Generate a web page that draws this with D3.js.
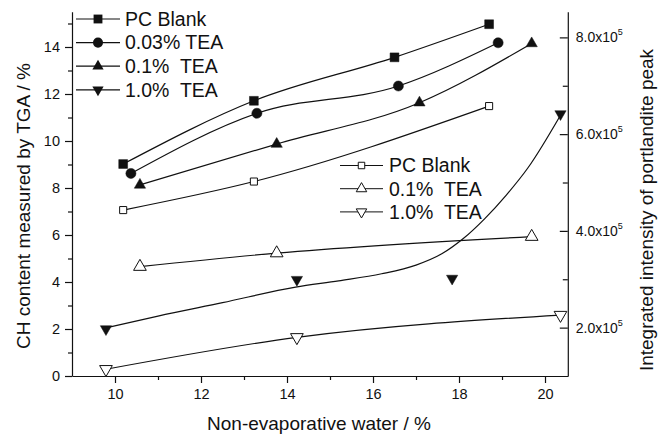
<!DOCTYPE html>
<html>
<head>
<meta charset="utf-8">
<script src="https://cdn.jsdelivr.net/npm/d3@7"></script>
<style>
  html, body { margin: 0; padding: 0; background: #fff; }
  svg text { font-family: "Liberation Sans", Arial, sans-serif; fill: #111; white-space: pre; }
</style>
</head>
<body>
<svg id="chart" width="670" height="435"></svg>
<script>
// Non-evaporative water (%) and CH content by TGA (%) — left axis, filled symbols
const nwBlank = [10.19, 13.23, 16.5, 18.7];
const chBlank = [9.02, 11.71, 13.56, 14.97];
const nwTea003 = [10.37, 13.3, 16.59, 18.91];
const chTea003 = [8.62, 11.18, 12.34, 14.18];
const nwTea01 = [10.58, 13.76, 17.08, 19.69];
const chTea01 = [8.13, 9.87, 11.63, 14.15];
const nwTea10 = [9.79, 14.23, 17.84, 20.36];
const chTea10 = [2.0, 4.1, 4.15, 11.15];

// fitted trend for the 1.0% TEA CH content
const fitTea10X = [9.79, 11, 12.5, 14.2, 15.2, 16.2, 17.0, 17.6, 18.1, 18.6, 19.1, 19.6, 20.36];
const fitTea10Y = [2.05, 2.55, 3.12, 3.78, 4.05, 4.35, 4.72, 5.2, 5.85, 6.7, 7.7, 8.85, 11.1];

// Integrated intensity of the portlandite XRD peak — right axis, open symbols
const nwXrdBlank = [10.19, 13.23, 18.7];
const intBlank = [4.43e5, 5.02e5, 6.58e5];
const nwXrd01 = [10.58, 13.76, 19.69];
const int01 = [3.26e5, 3.54e5, 3.88e5];
const nwXrd10 = [9.79, 14.23, 20.36];
const int10 = [1.14e5, 1.80e5, 2.26e5];

// tick values
const xTicks = [10, 12, 14, 16, 18, 20];
const yLeftTicks = [0, 2, 4, 6, 8, 10, 12, 14];
const yRightTicks = [2e5, 4e5, 6e5, 8e5];
const yRightLabels = ["2.0x10", "4.0x10", "6.0x10", "8.0x10"];

const legendTGA = ["PC Blank", "0.03% TEA", "0.1%  TEA", "1.0%  TEA"];
const legendXRD = ["PC Blank", "0.1%  TEA", "1.0%  TEA"];

const svg = d3.select("#chart");

const x = d3.scaleLinear().domain([9, 20.53]).range([72, 567.8]);
const yL = d3.scaleLinear().domain([0, 15.5]).range([376, 11.75]);
const yR = d3.scaleLinear().domain([1e5, 8.53e5]).range([376, 11.75]);

const ink = "#111";

// ---- axes ----
svg.append("g").attr("transform", `translate(0,${yL(0)})`)
  .call(d3.axisBottom(x).tickValues(xTicks).tickSize(7).tickSizeOuter(0).tickPadding(6));
svg.append("g").attr("transform", `translate(0,${yL(0)})`)
  .call(d3.axisBottom(x).tickValues([11, 13, 15, 17, 19]).tickSize(4).tickFormat(""))
  .call(g => g.select(".domain").remove());

svg.append("g").attr("transform", `translate(${x(9)},0)`)
  .call(d3.axisLeft(yL).tickValues(yLeftTicks).tickSize(7).tickSizeOuter(0).tickPadding(5));
svg.append("g").attr("transform", `translate(${x(9)},0)`)
  .call(d3.axisLeft(yL).tickValues([1, 3, 5, 7, 9, 11, 13, 15]).tickSize(4).tickFormat(""))
  .call(g => g.select(".domain").remove());

// right axis: ticks point inward
svg.append("g").attr("transform", `translate(${x.range()[1]},0)`)
  .call(d3.axisRight(yR).tickValues(yRightTicks).tickSize(-8).tickSizeOuter(0).tickFormat(""));
svg.append("g").attr("transform", `translate(${x.range()[1]},0)`)
  .call(d3.axisRight(yR).tickValues([3e5, 5e5, 7e5]).tickSize(-5).tickFormat(""))
  .call(g => g.select(".domain").remove());

svg.selectAll(".domain, .tick line").attr("stroke", ink).attr("stroke-width", 1.2);
svg.selectAll(".tick text").attr("font-size", 14.5).attr("fill", ink)
  .style("font-family", "'Liberation Sans', Arial, sans-serif");

// right tick labels with superscript exponent
const rl = svg.append("g");
yRightTicks.forEach((v, i) => {
  const t = rl.append("text").attr("x", x.range()[1] + 8).attr("y", yR(v) + 5)
    .attr("font-size", 14);
  t.append("tspan").text(yRightLabels[i]);
  t.append("tspan").attr("font-size", 9).attr("dy", -7).text("5");
});

// ---- axis titles ----
svg.append("text").attr("x", 319).attr("y", 430).attr("text-anchor", "middle")
  .attr("font-size", 19).text("Non-evaporative water / %");
svg.append("text").attr("transform", "translate(30,206) rotate(-90)")
  .attr("text-anchor", "middle").attr("font-size", 19)
  .text("CH content measured by TGA / %");
svg.append("text").attr("transform", "translate(653,210) rotate(-90)")
  .attr("text-anchor", "middle").attr("font-size", 19)
  .text("Integrated intensity of portlandite peak");

// ---- symbols ----
const sym = {
  square: d3.symbol().type(d3.symbolSquare).size(78),
  circle: d3.symbol().type(d3.symbolCircle).size(80),
  up: d3.symbol().type(d3.symbolTriangle).size(55),
  down: d3.symbol().type(d3.symbolTriangle).size(55)
};
const openSym = {
  square: d3.symbol().type(d3.symbolSquare).size(50),
  up: d3.symbol().type(d3.symbolTriangle).size(70),
  down: d3.symbol().type(d3.symbolTriangle).size(70)
};
function place(kind, cx, cy) {
  return `translate(${cx},${cy})` + (kind === "down" ? " rotate(180)" : "");
}

const smooth = d3.line().curve(d3.curveMonotoneX);
function drawLine(xsArr, ysArr, yScale) {
  const pts = xsArr.map((v, i) => [x(v), yScale(ysArr[i])]);
  svg.append("path").attr("d", smooth(pts)).attr("fill", "none")
    .attr("stroke", ink).attr("stroke-width", 1.2);
}
function drawMarks(xsArr, ysArr, yScale, kind, filled, gen) {
  svg.append("g").selectAll("path").data(xsArr).join("path")
    .attr("d", gen[kind]())
    .attr("transform", (v, i) => place(kind, x(v), yScale(ysArr[i])))
    .attr("fill", filled ? ink : "#fff")
    .attr("stroke", ink).attr("stroke-width", filled ? 0.5 : 1);
}

// lines
drawLine(nwBlank, chBlank, yL);
drawLine(nwTea003, chTea003, yL);
drawLine(nwTea01, chTea01, yL);
drawLine(fitTea10X, fitTea10Y, yL);
drawLine(nwXrdBlank, intBlank, yR);
drawLine(nwXrd01, int01, yR);
drawLine(nwXrd10, int10, yR);

// markers
drawMarks(nwBlank, chBlank, yL, "square", true, sym);
drawMarks(nwTea003, chTea003, yL, "circle", true, sym);
drawMarks(nwTea01, chTea01, yL, "up", true, sym);
drawMarks(nwTea10, chTea10, yL, "down", true, sym);
drawMarks(nwXrdBlank, intBlank, yR, "square", false, openSym);
drawMarks(nwXrd01, int01, yR, "up", false, openSym);
drawMarks(nwXrd10, int10, yR, "down", false, openSym);

// ---- legends ----
const kinds1 = ["square", "circle", "up", "down"];
const lg1 = svg.append("g");
legendTGA.forEach((name, i) => {
  const cy = 19 + i * 23.6;
  lg1.append("line").attr("x1", 76).attr("x2", 120).attr("y1", cy).attr("y2", cy)
    .attr("stroke", ink).attr("stroke-width", 1.2);
  lg1.append("path").attr("d", sym[kinds1[i]]()).attr("transform", place(kinds1[i], 98, cy))
    .attr("fill", ink);
  lg1.append("text").attr("x", 125).attr("y", cy + 6.8).attr("font-size", 19.5).text(name);
});

const kinds2 = ["square", "up", "down"];
const legendSym = {
  square: d3.symbol().type(d3.symbolSquare).size(42),
  up: d3.symbol().type(d3.symbolTriangle).size(48),
  down: d3.symbol().type(d3.symbolTriangle).size(48)
};
const lg2 = svg.append("g");
legendXRD.forEach((name, i) => {
  const cy = 165.5 + i * 23.2;
  lg2.append("line").attr("x1", 340).attr("x2", 383).attr("y1", cy).attr("y2", cy)
    .attr("stroke", ink).attr("stroke-width", 1);
  lg2.append("path").attr("d", legendSym[kinds2[i]]())
    .attr("transform", place(kinds2[i], 361.5, cy))
    .attr("fill", "#fff").attr("stroke", ink).attr("stroke-width", 1);
  lg2.append("text").attr("x", 389).attr("y", cy + 6.8).attr("font-size", 19.5).text(name);
});
</script>
</body>
</html>
